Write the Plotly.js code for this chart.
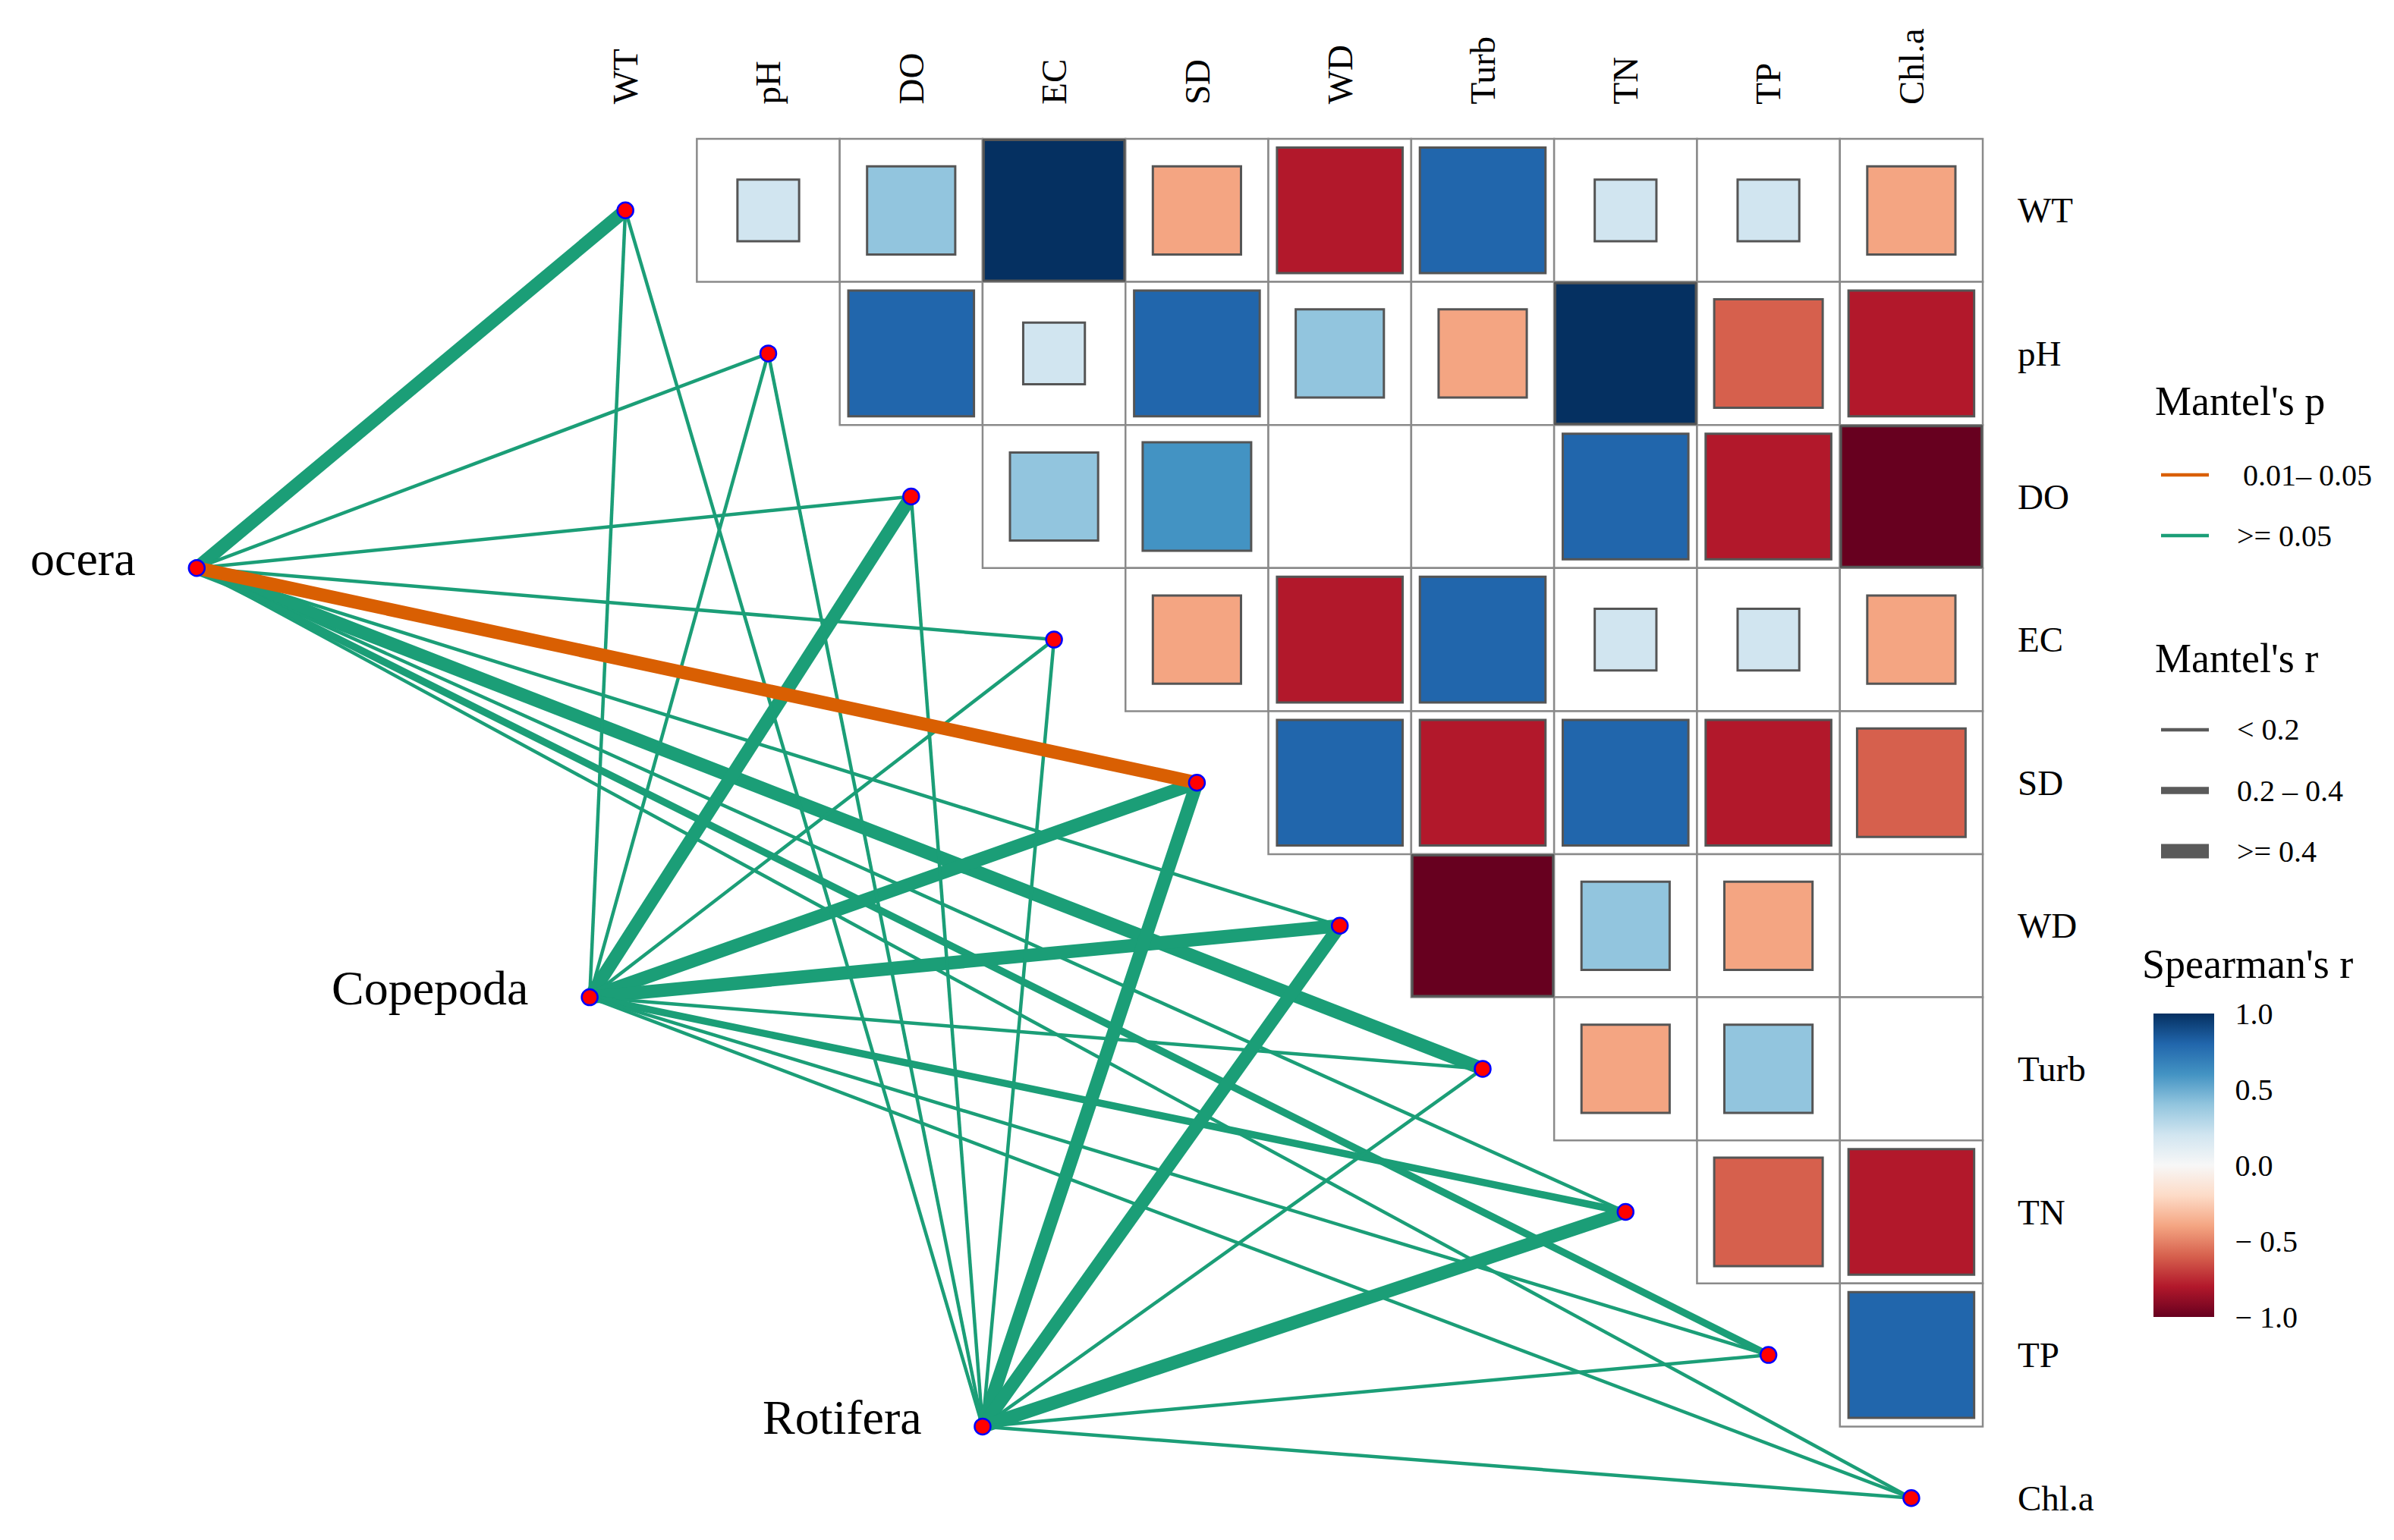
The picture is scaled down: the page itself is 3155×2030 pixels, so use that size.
<!DOCTYPE html>
<html><head><meta charset="utf-8">
<script src="https://cdn.plot.ly/plotly-3.0.1.min.js"></script>
<style>html,body{margin:0;padding:0;background:#fff;} #chart{width:3155px;height:2030px;}</style>
</head><body><div id="chart"></div>
<script>
// ---------------- DATA ----------------
const envVars = ['WT','pH','DO','EC','SD','WD','Turb','TN','TP','Chl.a'];
// Spearman's r, upper triangle: row variable vs. each following variable
const rWT   = [0.2, 0.4, 1.0, -0.4, -0.8, 0.8, 0.2, 0.2, -0.4];
const rPH   = [0.8, 0.2, 0.8, 0.4, -0.4, 1.0, -0.6, -0.8];
const rDO   = [0.4, 0.6, 0.0, 0.0, 0.8, -0.8, -1.0];
const rEC   = [-0.4, -0.8, 0.8, 0.2, 0.2, -0.4];
const rSD   = [0.8, -0.8, 0.8, -0.8, -0.6];
const rWD   = [-1.0, 0.4, -0.4, 0.0];
const rTurb = [-0.4, 0.4, 0.0];
const rTN   = [-0.6, -0.8];
const rTP   = [0.8];
const spearmanRows = [rWT, rPH, rDO, rEC, rSD, rWD, rTurb, rTN, rTP];

const species = ['ocera', 'Copepoda', 'Rotifera'];
// Mantel's r and p of each species group against WT..Chl.a
const mantelR_ocera    = [0.45, 0.12, 0.12, 0.12, 0.45, 0.12, 0.45, 0.12, 0.30, 0.12];
const mantelR_copepoda = [0.12, 0.12, 0.45, 0.12, 0.45, 0.45, 0.12, 0.30, 0.12, 0.12];
const mantelR_rotifera = [0.12, 0.12, 0.12, 0.12, 0.45, 0.45, 0.12, 0.45, 0.12, 0.12];
const mantelP_ocera    = [0.20, 0.30, 0.30, 0.30, 0.03, 0.30, 0.15, 0.30, 0.20, 0.30];
const mantelP_copepoda = [0.30, 0.30, 0.15, 0.30, 0.15, 0.15, 0.30, 0.20, 0.30, 0.30];
const mantelP_rotifera = [0.30, 0.30, 0.30, 0.30, 0.15, 0.15, 0.30, 0.15, 0.30, 0.30];
const mantelR = [mantelR_ocera, mantelR_copepoda, mantelR_rotifera];
const mantelP = [mantelP_ocera, mantelP_copepoda, mantelP_rotifera];

const pLegendLabels = ['0.01\u2013 0.05', '&gt;= 0.05'];
const rLegendLabels = ['&lt; 0.2', '0.2 \u2013 0.4', '&gt;= 0.4'];
const cbTickVals = [-1, -0.5, 0, 0.5, 1];
const cbTickText = ['\u2212 1.0', '\u2212 0.5', '0.0', '0.5', '1.0'];

// ---------------- LAYOUT / STYLE ----------------
const W = 3155, H = 2030;
const X0PX = 824.2, KX = 188.3, Y0PX = 277.3, KY = 188.6;
const CELL_PX = (KX + KY) / 2;
const xRange = [-X0PX / KX, (W - X0PX) / KX];
const yRange = [(H - Y0PX) / KY, -Y0PX / KY];
const spPos = [[-3.0, 2.5], [-0.25, 5.5], [2.5, 8.5]];
const FONT = 'Liberation Serif, Times New Roman, serif';
const GREEN = '#1B9E77', ORANGE = '#D95F02', LEGGRAY = '#5a5a5a';
const SQ_LW = 3;
const rdbu = [[0,'#67001f'],[0.1,'#b2182b'],[0.2,'#d6604d'],[0.3,'#f4a582'],[0.4,'#fddbc7'],
              [0.5,'#f7f7f7'],[0.6,'#d1e5f0'],[0.7,'#92c5de'],[0.8,'#4393c3'],[0.9,'#2166ac'],[1,'#053061']];
function widthOf(r){ return r < 0.2 ? 4.5 : (r < 0.4 ? 9.5 : 17.5); }
function colorOf(p){ return p < 0.05 ? ORANGE : GREEN; }
const px2x = px => px / W, py2y = py => 1 - py / H;

const traces = [];
const shapes = [];
const annotations = [];

// grid cells
spearmanRows.forEach((row, i) => row.forEach((v, k) => {
  const j = i + 1 + k;
  shapes.push({type:'rect', xref:'x', yref:'y', x0:j-0.5, x1:j+0.5, y0:i-0.5, y1:i+0.5,
    line:{color:'#8a8a8a', width:2.5}, fillcolor:'white', layer:'below'});
}));

// edges (green first, orange on top)
const edges = [];
species.forEach((sp, s) => envVars.forEach((e, j) => {
  edges.push({s, j, r: mantelR[s][j], p: mantelP[s][j]});
}));
edges.sort((a, b) => (a.p < 0.05) - (b.p < 0.05));
edges.forEach(ed => {
  traces.push({type:'scatter', mode:'lines', x:[spPos[ed.s][0], ed.j], y:[spPos[ed.s][1], ed.j],
    line:{color: colorOf(ed.p), width: widthOf(ed.r)}, hoverinfo:'skip', showlegend:false});
});

// correlation squares
const sqX = [], sqY = [], sqC = [], sqS = [];
spearmanRows.forEach((row, i) => row.forEach((v, k) => {
  if (Math.abs(v) < 0.05) return;
  sqX.push(i + 1 + k); sqY.push(i); sqC.push(v);
  sqS.push(Math.sqrt(Math.abs(v)) * CELL_PX - SQ_LW);
}));
traces.push({type:'scatter', mode:'markers', x:sqX, y:sqY, hoverinfo:'skip', showlegend:false,
  marker:{symbol:'square', size:sqS, sizemode:'diameter', opacity:1, color:sqC, colorscale:rdbu, cmin:-1, cmax:1,
    line:{color:'#555555', width:SQ_LW},
    showscale:true,
    colorbar:{x:px2x(2838), xanchor:'left', xpad:0, y:py2y(1536), yanchor:'middle', ypad:0,
      thickness:80, thicknessmode:'pixels', len:400, lenmode:'pixels',
      outlinewidth:0, borderwidth:0,
      tickmode:'array', tickvals:cbTickVals, ticktext:cbTickText,
      ticks:'outside', ticklen:20, tickcolor:'rgba(0,0,0,0)',
      tickfont:{family:FONT, size:40, color:'#000'}}}});

// nodes
traces.push({type:'scatter', mode:'markers',
  x: envVars.map((_, j) => j).concat(spPos.map(p => p[0])),
  y: envVars.map((_, j) => j).concat(spPos.map(p => p[1])),
  marker:{size:21, opacity:1, color:'#ff0000', line:{color:'#0000ff', width:2.5}},
  hoverinfo:'skip', showlegend:false});

// labels
envVars.forEach((e, j) => {
  annotations.push({x:j, y:-0.73, xref:'x', yref:'y', text:e, showarrow:false, textangle:-90,
    xanchor:'center', yanchor:'bottom', font:{family:FONT, size:47, color:'#000'}});
  annotations.push({x:envVars.length - 0.5 + 44 / KX, y:j, xref:'x', yref:'y', text:e, showarrow:false,
    xanchor:'left', yanchor:'middle', font:{family:FONT, size:47, color:'#000'}});
});
species.forEach((sp, s) => {
  annotations.push({x:spPos[s][0], y:spPos[s][1], xref:'x', yref:'y', text:sp, showarrow:false,
    xanchor:'right', yanchor:'middle', xshift:-78, yshift:12, font:{family:FONT, size:64, color:'#000'}});
});

// manual legends
function legText(txt, x, y, size){
  annotations.push({x:px2x(x), y:py2y(y), xref:'paper', yref:'paper', text:txt, showarrow:false,
    xanchor:'left', yanchor:'middle', font:{family:FONT, size:size, color:'#000'}});
}
function legLine(y, color, w){
  shapes.push({type:'line', xref:'paper', yref:'paper', x0:px2x(2848), x1:px2x(2911), y0:py2y(y), y1:py2y(y),
    line:{color:color, width:w}});
}
legText("Mantel's p", 2838, 529, 54);
legLine(626, ORANGE, 4.5); legText(pLegendLabels[0], 2954, 626, 40);
legLine(706, GREEN, 4.5);  legText(pLegendLabels[1], 2946, 706, 40);
legText("Mantel's r", 2838, 868, 54);
[0.1, 0.3, 0.5].forEach((r, k) => {
  const y = [962, 1042, 1122][k];
  legLine(y, LEGGRAY, widthOf(r) + (k === 2 ? 1.5 : 0));
  legText(rLegendLabels[k], 2946, y, 40);
});
legText("Spearman's r", 2821, 1271, 54);
// white ticks inside colour bar
cbTickVals.forEach(v => {
  const y = 1336 + (1 - v) / 2 * 400;
  const yy = Math.min(Math.max(y, 1337), 1735);
  shapes.push({type:'line', xref:'paper', yref:'paper', x0:px2x(2838), x1:px2x(2856), y0:py2y(yy), y1:py2y(yy), line:{color:'white', width:2.5}});
  shapes.push({type:'line', xref:'paper', yref:'paper', x0:px2x(2900), x1:px2x(2918), y0:py2y(yy), y1:py2y(yy), line:{color:'white', width:2.5}});
});

const layout = {
  width:W, height:H, margin:{l:0, r:0, t:0, b:0, pad:0},
  paper_bgcolor:'white', plot_bgcolor:'white', showlegend:false,
  xaxis:{range:xRange, visible:false, fixedrange:true},
  yaxis:{range:yRange, visible:false, fixedrange:true},
  shapes:shapes, annotations:annotations
};
Plotly.newPlot('chart', traces, layout, {displayModeBar:false, staticPlot:true});
</script></body></html>
